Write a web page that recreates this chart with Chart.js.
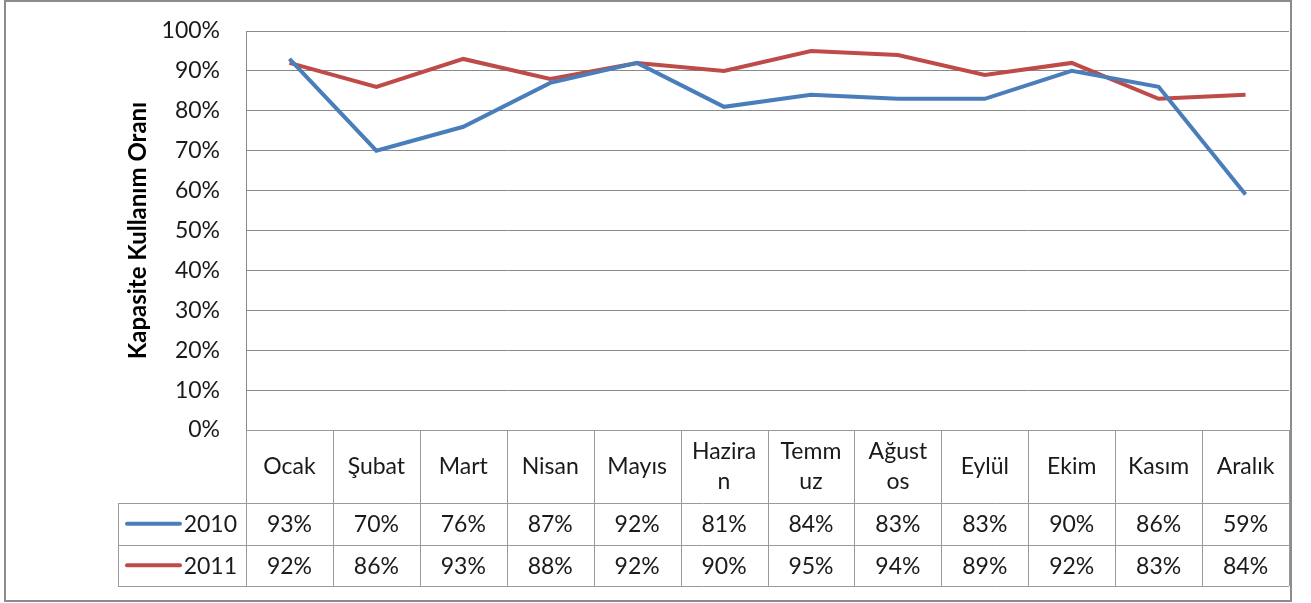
<!DOCTYPE html>
<html>
<head>
<meta charset="utf-8">
<script src="https://cdn.jsdelivr.net/npm/chart.js@4/dist/chart.umd.min.js"></script>
<style>
    html, body { margin: 0; padding: 0; background: #fff; }
</style>
</head>
<body>
<canvas id="chart" width="1311" height="603"></canvas>
<script>
// Datos del gráfico
const months = ['Ocak', 'Şubat', 'Mart', 'Nisan', 'Mayıs', ['Hazira', 'n'], ['Temm', 'uz'], ['Ağust', 'os'], 'Eylül', 'Ekim', 'Kasım', 'Aralık'];
const series2010 = [93, 70, 76, 87, 92, 81, 84, 83, 83, 90, 86, 59];
const series2011 = [92, 86, 93, 88, 92, 90, 95, 94, 89, 92, 83, 84];
const seriesNames = ['2010', '2011'];
const yTicks = [0, 10, 20, 30, 40, 50, 60, 70, 80, 90, 100];

const BLUE = '#4a7ebb';
const RED = '#be4b48';
const GRID = '#8a8a8a';
const FONT = 'Lato, "Open Sans", sans-serif';

// --- Tabla de datos bajo el gráfico ---
const dataTablePlugin = {
    id: 'dataTable',
    beforeDraw(chart) {
        const ctx = chart.ctx;
        ctx.save();
        ctx.fillStyle = '#fff';
        ctx.fillRect(0, 0, chart.width, chart.height);
        ctx.restore();
    },
    afterDraw(chart) {
        const ctx = chart.ctx;
        const area = chart.chartArea;
        const x = chart.scales.x;
        const colW = (area.right - area.left) / months.length;
        const headerBottom = area.bottom + 73;
        const rowH = 41.5;
        const tableLeft = 118;
        const tableBottom = headerBottom + rowH * 2;

        ctx.save();
        ctx.strokeStyle = '#9a9a9a';
        ctx.lineWidth = 1;
        ctx.beginPath();
        // verticales
        for (let i = 0; i <= months.length; i++) {
            const px = Math.round(area.left + i * colW) + 0.5;
            ctx.moveTo(px, area.bottom);
            ctx.lineTo(px, tableBottom);
        }
        ctx.moveTo(tableLeft + 0.5, headerBottom);
        ctx.lineTo(tableLeft + 0.5, tableBottom);
        // horizontales
        ctx.moveTo(area.left, Math.round(area.bottom) + 0.5);
        ctx.lineTo(area.right, Math.round(area.bottom) + 0.5);
        for (let r = 0; r <= 2; r++) {
            const py = Math.round(headerBottom + r * rowH) + 0.5;
            ctx.moveTo(tableLeft, py);
            ctx.lineTo(area.right, py);
        }
        ctx.stroke();

        ctx.fillStyle = '#1a1a1a';
        ctx.font = '23px ' + FONT;
        ctx.textAlign = 'center';
        ctx.textBaseline = 'middle';
        months.forEach((m, i) => {
            const cx = x.getPixelForValue(i);
            const cy = (area.bottom + headerBottom) / 2;
            if (Array.isArray(m)) {
                ctx.fillText(m[0], cx, cy - 15);
                ctx.fillText(m[1], cx, cy + 15);
            } else {
                ctx.fillText(m, cx, cy);
            }
        });

        [series2010, series2011].forEach((vals, r) => {
            const cy = headerBottom + rowH * r + rowH / 2;
            ctx.textAlign = 'center';
            vals.forEach((v, i) => {
                ctx.fillText(v + '%', x.getPixelForValue(i), cy + 1);
            });
            // leyenda
            ctx.strokeStyle = r === 0 ? BLUE : RED;
            ctx.lineWidth = 4;
            ctx.lineCap = 'round';
            ctx.beginPath();
            ctx.moveTo(127, cy);
            ctx.lineTo(180, cy);
            ctx.stroke();
            ctx.textAlign = 'right';
            ctx.fillText(seriesNames[r], area.left - 9, cy + 1);
        });

        // borde exterior
        ctx.strokeStyle = '#8c8c8c';
        ctx.lineWidth = 2;
        ctx.lineCap = 'butt';
        ctx.strokeRect(5, 1, 1286, 600);
        ctx.restore();
    }
};

new Chart(document.getElementById('chart'), {
    type: 'line',
    data: {
        labels: months,
        datasets: [
            { label: seriesNames[0], data: series2010, borderColor: BLUE, backgroundColor: BLUE, borderWidth: 4, pointRadius: 0, tension: 0 },
            { label: seriesNames[1], data: series2011, borderColor: RED, backgroundColor: RED, borderWidth: 4, pointRadius: 0, tension: 0 }
        ]
    },
    options: {
        responsive: false,
        animation: false,
        devicePixelRatio: 1,
        layout: { padding: { left: 120, right: 22, top: 31, bottom: 173 } },
        plugins: { legend: { display: false }, tooltip: { enabled: false } },
        scales: {
            x: {
                display: false,
                offset: true
            },
            y: {
                min: 0,
                max: 100,
                afterFit(scale) {
                    scale.width = 126;
                    // el padding de ticks no debe empujar el área hacia abajo
                    scale.paddingTop = 0;
                    scale.paddingBottom = 0;
                },
                afterBuildTicks(scale) { scale.ticks = yTicks.map(v => ({ value: v })); },
                ticks: {
                    padding: 26,
                    color: '#1a1a1a',
                    font: { family: FONT, size: 23 },
                    callback: v => v + '%'
                },
                grid: { color: GRID, drawTicks: false, lineWidth: 1 },
                border: { display: true, color: GRID },
                title: {
                    display: true,
                    text: 'Kapasite Kullanım Oranı',
                    color: '#000',
                    font: { family: FONT, size: 24, weight: 'bold' }
                }
            }
        }
    },
    plugins: [dataTablePlugin]
});
</script>
</body>
</html>
